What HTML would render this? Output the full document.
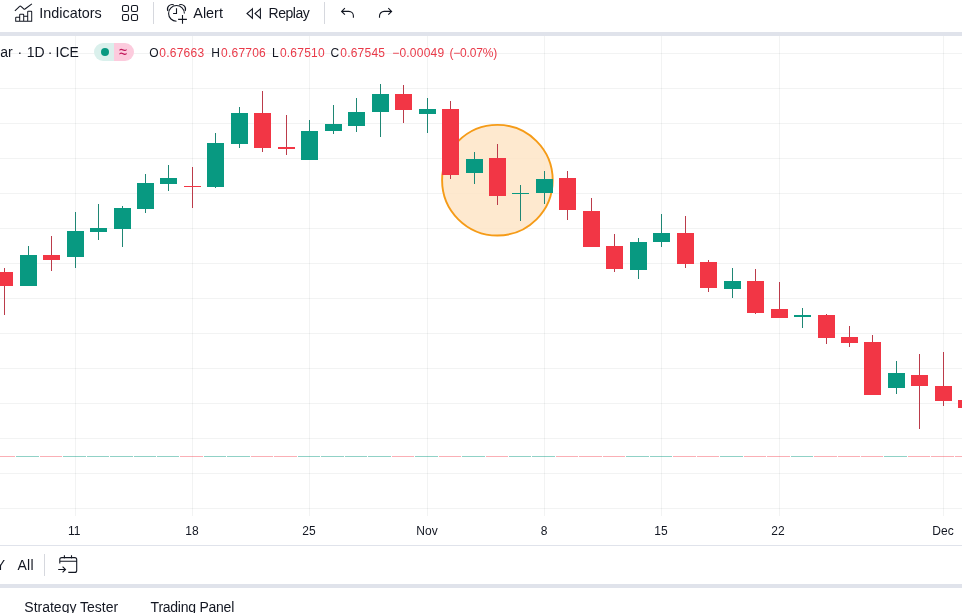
<!DOCTYPE html>
<html lang="en">
<head>
<meta charset="utf-8">
<title>Chart</title>
<style>
html,body{margin:0;padding:0;}
body{width:962px;height:613px;overflow:hidden;background:#fff;position:relative;font-family:"Liberation Sans",sans-serif;color:#131722;}
.abs{position:absolute;}
.band{position:absolute;left:0;width:962px;height:4px;background:#e0e3eb;}
.tb{position:absolute;left:0;top:0;width:962px;height:32px;background:#fff;}
.t14{position:absolute;font-size:14px;line-height:16px;white-space:nowrap;}
.t12{position:absolute;font-size:12px;line-height:14px;white-space:nowrap;}
.sep{position:absolute;width:1px;background:#d6d8de;}
.ic{position:absolute;left:0;top:0;overflow:visible;}
.red{color:#e93a49;}
.lbl{position:absolute;font-size:12px;line-height:14px;top:524px;width:60px;text-align:center;}
</style>
</head>
<body>
<!-- top toolbar -->
<div class="tb">
<svg class="ic" width="420" height="32" viewBox="0 0 420 32" fill="none" stroke="#131722" stroke-width="1.1">
<!-- indicators -->
<g transform="translate(9.2,-1.3)">
<path d="M5.7 12.1l4.7-4.4a1 1 0 0 1 1.4 0l2.7 2.5a1 1 0 0 0 1.3.1L22.7 5.2"/>
<path stroke="none" fill="#131722" fill-rule="evenodd" d="M19 12a1 1 0 0 0-1 1v4h-3v-1a1 1 0 0 0-1-1h-3a1 1 0 0 0-1 1v2H7a1 1 0 0 0-1 1v4h17V13a1 1 0 0 0-1-1h-3zm0 10h3v-9h-3v9zm-1 0v-4h-3v4h3zm-4-4.5V22h-3v-6h3v1.5zM10 22v-3H7v3h3z"/>
</g>
<!-- templates grid -->
<rect x="122.5" y="5.5" width="6" height="6" rx="1.6"/>
<rect x="131.5" y="5.5" width="6" height="6" rx="1.6"/>
<rect x="122.5" y="14.5" width="6" height="6" rx="1.6"/>
<rect x="131.5" y="14.5" width="6" height="6" rx="1.6"/>
<!-- alert -->
<path d="M184.4 13.4A7.9 7.9 0 1 0 176.5 21.3"/>
<path d="M167.8 10.96A4.7 4.7 0 0 1 173.75 4.8"/>
<path d="M179.25 4.8A4.7 4.7 0 0 1 185.2 10.96"/>
<path d="M176.5 8.2V13.5H173.1"/>
<path d="M178.1 19.4H186.9M182.5 15.1V23.8"/>
<!-- replay -->
<path d="M252.4 8.8L247 13.5L252.4 18.2Z"/>
<path d="M260.4 8.8L255 13.5L260.4 18.2Z"/>
<!-- undo / redo -->
<path d="M344.9 8.1L341.6 11.4L344.9 14.7M341.6 11.4H348.8A4.6 4.6 0 0 1 353.4 16V17.7"/>
<path d="M388.3 8.1L391.6 11.4L388.3 14.7M391.6 11.4H384.1A4.6 4.6 0 0 0 379.5 16V17.7"/>
</svg>
<div class="t14" style="left:39.3px;top:5px;font-size:14.4px;">Indicators</div>
<div class="sep" style="left:153px;top:2px;height:22px;"></div>
<div class="t14" style="left:193.3px;top:5px;font-size:14.4px;">Alert</div>
<div class="t14" style="left:268.6px;top:5px;letter-spacing:-0.5px;">Replay</div>
<div class="sep" style="left:324px;top:2px;height:22px;"></div>
</div>
<div class="band" style="top:32px;"></div>

<!-- chart -->
<svg class="abs" style="left:0;top:36px;" width="962" height="509" viewBox="0 0 962 509" shape-rendering="crispEdges">
<rect x="75" y="0" width="1" height="480" fill="rgba(42,46,57,0.06)"/>
<rect x="192" y="0" width="1" height="480" fill="rgba(42,46,57,0.06)"/>
<rect x="309" y="0" width="1" height="480" fill="rgba(42,46,57,0.06)"/>
<rect x="427" y="0" width="1" height="480" fill="rgba(42,46,57,0.06)"/>
<rect x="544" y="0" width="1" height="480" fill="rgba(42,46,57,0.06)"/>
<rect x="661" y="0" width="1" height="480" fill="rgba(42,46,57,0.06)"/>
<rect x="779" y="0" width="1" height="480" fill="rgba(42,46,57,0.06)"/>
<rect x="943" y="0" width="1" height="480" fill="rgba(42,46,57,0.06)"/>
<rect x="0" y="17" width="962" height="1" fill="rgba(42,46,57,0.06)"/>
<rect x="0" y="52" width="962" height="1" fill="rgba(42,46,57,0.06)"/>
<rect x="0" y="87" width="962" height="1" fill="rgba(42,46,57,0.06)"/>
<rect x="0" y="122" width="962" height="1" fill="rgba(42,46,57,0.06)"/>
<rect x="0" y="157" width="962" height="1" fill="rgba(42,46,57,0.06)"/>
<rect x="0" y="192" width="962" height="1" fill="rgba(42,46,57,0.06)"/>
<rect x="0" y="227" width="962" height="1" fill="rgba(42,46,57,0.06)"/>
<rect x="0" y="262" width="962" height="1" fill="rgba(42,46,57,0.06)"/>
<rect x="0" y="297" width="962" height="1" fill="rgba(42,46,57,0.06)"/>
<rect x="0" y="332" width="962" height="1" fill="rgba(42,46,57,0.06)"/>
<rect x="0" y="367" width="962" height="1" fill="rgba(42,46,57,0.06)"/>
<rect x="0" y="402" width="962" height="1" fill="rgba(42,46,57,0.06)"/>
<rect x="0" y="437" width="962" height="1" fill="rgba(42,46,57,0.06)"/>
<rect x="0" y="472" width="962" height="1" fill="rgba(42,46,57,0.06)"/>
<circle cx="497.4" cy="144.2" r="55.3" fill="#fee3c3" fill-opacity="0.8" stroke="#f59b17" stroke-width="1.9" shape-rendering="geometricPrecision"/>
<rect x="-7" y="420" width="22" height="1" fill="rgba(242,54,69,0.4)"/>
<rect x="16" y="420" width="23" height="1" fill="rgba(8,153,129,0.45)"/>
<rect x="40" y="420" width="22" height="1" fill="rgba(242,54,69,0.4)"/>
<rect x="63" y="420" width="23" height="1" fill="rgba(8,153,129,0.45)"/>
<rect x="87" y="420" width="22" height="1" fill="rgba(8,153,129,0.45)"/>
<rect x="110" y="420" width="23" height="1" fill="rgba(8,153,129,0.45)"/>
<rect x="134" y="420" width="22" height="1" fill="rgba(8,153,129,0.45)"/>
<rect x="157" y="420" width="22" height="1" fill="rgba(8,153,129,0.45)"/>
<rect x="180" y="420" width="23" height="1" fill="rgba(242,54,69,0.4)"/>
<rect x="204" y="420" width="22" height="1" fill="rgba(8,153,129,0.45)"/>
<rect x="227" y="420" width="23" height="1" fill="rgba(8,153,129,0.45)"/>
<rect x="251" y="420" width="22" height="1" fill="rgba(242,54,69,0.4)"/>
<rect x="274" y="420" width="23" height="1" fill="rgba(242,54,69,0.4)"/>
<rect x="298" y="420" width="22" height="1" fill="rgba(8,153,129,0.45)"/>
<rect x="321" y="420" width="23" height="1" fill="rgba(8,153,129,0.45)"/>
<rect x="345" y="420" width="22" height="1" fill="rgba(8,153,129,0.45)"/>
<rect x="368" y="420" width="23" height="1" fill="rgba(8,153,129,0.45)"/>
<rect x="392" y="420" width="22" height="1" fill="rgba(242,54,69,0.4)"/>
<rect x="415" y="420" width="23" height="1" fill="rgba(8,153,129,0.45)"/>
<rect x="439" y="420" width="22" height="1" fill="rgba(242,54,69,0.4)"/>
<rect x="462" y="420" width="23" height="1" fill="rgba(8,153,129,0.45)"/>
<rect x="486" y="420" width="22" height="1" fill="rgba(242,54,69,0.4)"/>
<rect x="509" y="420" width="22" height="1" fill="rgba(8,153,129,0.45)"/>
<rect x="532" y="420" width="23" height="1" fill="rgba(8,153,129,0.45)"/>
<rect x="556" y="420" width="22" height="1" fill="rgba(242,54,69,0.4)"/>
<rect x="579" y="420" width="23" height="1" fill="rgba(242,54,69,0.4)"/>
<rect x="603" y="420" width="22" height="1" fill="rgba(242,54,69,0.4)"/>
<rect x="626" y="420" width="23" height="1" fill="rgba(8,153,129,0.45)"/>
<rect x="650" y="420" width="22" height="1" fill="rgba(8,153,129,0.45)"/>
<rect x="673" y="420" width="23" height="1" fill="rgba(242,54,69,0.4)"/>
<rect x="697" y="420" width="22" height="1" fill="rgba(242,54,69,0.4)"/>
<rect x="720" y="420" width="23" height="1" fill="rgba(8,153,129,0.45)"/>
<rect x="744" y="420" width="22" height="1" fill="rgba(242,54,69,0.4)"/>
<rect x="767" y="420" width="23" height="1" fill="rgba(242,54,69,0.4)"/>
<rect x="791" y="420" width="22" height="1" fill="rgba(8,153,129,0.45)"/>
<rect x="814" y="420" width="23" height="1" fill="rgba(242,54,69,0.4)"/>
<rect x="838" y="420" width="22" height="1" fill="rgba(242,54,69,0.4)"/>
<rect x="861" y="420" width="22" height="1" fill="rgba(242,54,69,0.4)"/>
<rect x="884" y="420" width="23" height="1" fill="rgba(8,153,129,0.45)"/>
<rect x="908" y="420" width="22" height="1" fill="rgba(242,54,69,0.4)"/>
<rect x="931" y="420" width="23" height="1" fill="rgba(242,54,69,0.4)"/>
<rect x="955" y="420" width="22" height="1" fill="rgba(242,54,69,0.4)"/>
<rect x="4" y="232" width="1" height="47" fill="#bb3b4a"/>
<rect x="-4" y="236" width="17" height="14" fill="#f23645"/>
<rect x="28" y="210" width="1" height="40" fill="#1f8674"/>
<rect x="20" y="219" width="17" height="31" fill="#089981"/>
<rect x="51" y="200" width="1" height="35" fill="#bb3b4a"/>
<rect x="43" y="219" width="17" height="5" fill="#f23645"/>
<rect x="75" y="176" width="1" height="56" fill="#1f8674"/>
<rect x="67" y="195" width="17" height="26" fill="#089981"/>
<rect x="98" y="168" width="1" height="36" fill="#1f8674"/>
<rect x="90" y="192" width="17" height="4" fill="#089981"/>
<rect x="122" y="170" width="1" height="41" fill="#1f8674"/>
<rect x="114" y="172" width="17" height="21" fill="#089981"/>
<rect x="145" y="138" width="1" height="39" fill="#1f8674"/>
<rect x="137" y="147" width="17" height="26" fill="#089981"/>
<rect x="168" y="129" width="1" height="26" fill="#1f8674"/>
<rect x="160" y="142" width="17" height="6" fill="#089981"/>
<rect x="192" y="131" width="1" height="41" fill="#bb3b4a"/>
<rect x="184" y="150" width="17" height="1" fill="#f23645"/>
<rect x="215" y="97" width="1" height="55" fill="#1f8674"/>
<rect x="207" y="107" width="17" height="44" fill="#089981"/>
<rect x="239" y="71" width="1" height="41" fill="#1f8674"/>
<rect x="231" y="77" width="17" height="31" fill="#089981"/>
<rect x="262" y="55" width="1" height="61" fill="#bb3b4a"/>
<rect x="254" y="77" width="17" height="35" fill="#f23645"/>
<rect x="286" y="79" width="1" height="40" fill="#bb3b4a"/>
<rect x="278" y="111" width="17" height="2" fill="#f23645"/>
<rect x="309" y="84" width="1" height="40" fill="#1f8674"/>
<rect x="301" y="95" width="17" height="29" fill="#089981"/>
<rect x="333" y="69" width="1" height="29" fill="#1f8674"/>
<rect x="325" y="88" width="17" height="7" fill="#089981"/>
<rect x="356" y="62" width="1" height="34" fill="#1f8674"/>
<rect x="348" y="76" width="17" height="14" fill="#089981"/>
<rect x="380" y="48" width="1" height="53" fill="#1f8674"/>
<rect x="372" y="58" width="17" height="18" fill="#089981"/>
<rect x="403" y="49" width="1" height="38" fill="#bb3b4a"/>
<rect x="395" y="58" width="17" height="16" fill="#f23645"/>
<rect x="427" y="62" width="1" height="35" fill="#1f8674"/>
<rect x="419" y="73" width="17" height="5" fill="#089981"/>
<rect x="450" y="65" width="1" height="78" fill="#bb3b4a"/>
<rect x="442" y="73" width="17" height="66" fill="#f23645"/>
<rect x="474" y="116" width="1" height="32" fill="#1f8674"/>
<rect x="466" y="123" width="17" height="14" fill="#089981"/>
<rect x="497" y="108" width="1" height="61" fill="#bb3b4a"/>
<rect x="489" y="122" width="17" height="38" fill="#f23645"/>
<rect x="520" y="149" width="1" height="36" fill="#1f8674"/>
<rect x="512" y="157" width="17" height="1" fill="#089981"/>
<rect x="544" y="135" width="1" height="33" fill="#1f8674"/>
<rect x="536" y="143" width="17" height="14" fill="#089981"/>
<rect x="567" y="135" width="1" height="49" fill="#bb3b4a"/>
<rect x="559" y="142" width="17" height="32" fill="#f23645"/>
<rect x="591" y="162" width="1" height="49" fill="#bb3b4a"/>
<rect x="583" y="175" width="17" height="36" fill="#f23645"/>
<rect x="614" y="198" width="1" height="38" fill="#bb3b4a"/>
<rect x="606" y="210" width="17" height="23" fill="#f23645"/>
<rect x="638" y="202" width="1" height="41" fill="#1f8674"/>
<rect x="630" y="206" width="17" height="28" fill="#089981"/>
<rect x="661" y="178" width="1" height="33" fill="#1f8674"/>
<rect x="653" y="197" width="17" height="9" fill="#089981"/>
<rect x="685" y="180" width="1" height="52" fill="#bb3b4a"/>
<rect x="677" y="197" width="17" height="31" fill="#f23645"/>
<rect x="708" y="224" width="1" height="32" fill="#bb3b4a"/>
<rect x="700" y="226" width="17" height="26" fill="#f23645"/>
<rect x="732" y="232" width="1" height="30" fill="#1f8674"/>
<rect x="724" y="245" width="17" height="8" fill="#089981"/>
<rect x="755" y="233" width="1" height="45" fill="#bb3b4a"/>
<rect x="747" y="245" width="17" height="32" fill="#f23645"/>
<rect x="779" y="246" width="1" height="36" fill="#bb3b4a"/>
<rect x="771" y="273" width="17" height="9" fill="#f23645"/>
<rect x="802" y="272" width="1" height="20" fill="#1f8674"/>
<rect x="794" y="279" width="17" height="2" fill="#089981"/>
<rect x="826" y="278" width="1" height="30" fill="#bb3b4a"/>
<rect x="818" y="279" width="17" height="23" fill="#f23645"/>
<rect x="849" y="290" width="1" height="21" fill="#bb3b4a"/>
<rect x="841" y="301" width="17" height="6" fill="#f23645"/>
<rect x="872" y="299" width="1" height="60" fill="#bb3b4a"/>
<rect x="864" y="306" width="17" height="53" fill="#f23645"/>
<rect x="896" y="325" width="1" height="33" fill="#1f8674"/>
<rect x="888" y="337" width="17" height="15" fill="#089981"/>
<rect x="919" y="318" width="1" height="75" fill="#bb3b4a"/>
<rect x="911" y="339" width="17" height="11" fill="#f23645"/>
<rect x="943" y="316" width="1" height="54" fill="#bb3b4a"/>
<rect x="935" y="350" width="17" height="15" fill="#f23645"/>
<rect x="966" y="359" width="1" height="17" fill="#bb3b4a"/>
<rect x="958" y="364" width="17" height="8" fill="#f23645"/>
</svg>

<!-- legend -->
<div class="t14" style="left:0.3px;top:44px;">ar<span style="margin:0 0.8px;"> · </span>1D<span style="margin:0 -0.8px;"> · </span>ICE</div>
<div class="abs" style="left:94px;top:43px;width:40px;height:18px;border-radius:9px;overflow:hidden;">
<div class="abs" style="left:0;top:0;width:20px;height:18px;background:#daf0ec;"></div>
<div class="abs" style="left:20px;top:0;width:20px;height:18px;background:#fccbdd;"></div>
<div class="abs" style="left:7px;top:5px;width:8px;height:8px;border-radius:4px;background:#089981;"></div>
<div class="abs" style="left:20px;top:0;width:18px;height:18px;line-height:18px;text-align:center;font-size:14.5px;transform:scaleY(1.3);transform-origin:50% 52%;color:#c2185b;">≈</div>
</div>
<div class="t12" style="left:149.3px;top:46px;letter-spacing:0.22px;">O<span class="red" style="margin-left:0.5px;">0.67663</span></div>
<div class="t12" style="left:211.2px;top:46px;letter-spacing:0.22px;">H<span class="red" style="margin-left:1px;">0.67706</span></div>
<div class="t12" style="left:272px;top:46px;letter-spacing:0.22px;">L<span class="red" style="margin-left:1px;">0.67510</span></div>
<div class="t12" style="left:330.4px;top:46px;letter-spacing:0.22px;">C<span class="red" style="margin-left:1px;">0.67545</span></div>
<div class="t12 red" style="left:392.2px;top:46px;letter-spacing:0.22px;">−0.00049</div>
<div class="t12 red" style="left:449.5px;top:46px;letter-spacing:-0.2px;">(−0.07%)</div>

<!-- time axis -->
<div class="lbl" style="left:44.3px;">11</div>
<div class="lbl" style="left:162px;">18</div>
<div class="lbl" style="left:279px;">25</div>
<div class="lbl" style="left:397px;">Nov</div>
<div class="lbl" style="left:514px;">8</div>
<div class="lbl" style="left:631px;">15</div>
<div class="lbl" style="left:748px;">22</div>
<div class="lbl" style="left:913px;">Dec</div>
<div class="abs" style="left:0;top:545px;width:962px;height:1px;background:#e0e3eb;"></div>

<!-- bottom toolbar -->
<div class="t14" style="left:-4.2px;top:557px;font-size:14px;">Y</div>
<div class="t14" style="left:17.4px;top:557px;font-size:14px;letter-spacing:0.3px;">All</div>
<div class="sep" style="left:44px;top:554px;height:22px;"></div>
<svg class="ic" style="top:546px;" width="100" height="38" viewBox="0 546 100 38" fill="none" stroke="#131722" stroke-width="1.1">
<path d="M59.8 563.6V559.6a2 2 0 0 1 2-2H74.7a2 2 0 0 1 2 2V570.4a2 2 0 0 1-2 2H68.3M59.8 561.3H76.7M64.4 555.3V558.4M71.5 555.3V558.4M58.2 569.5H65.5M62.6 566.6L65.5 569.5L62.6 572.4"/>
</svg>
<div class="band" style="top:584px;"></div>

<!-- bottom panel tabs -->
<div class="t14" style="left:24.3px;top:599px;">Strategy Tester</div>
<div class="t14" style="left:150.6px;top:599px;letter-spacing:-0.25px;">Trading Panel</div>
</body>
</html>
